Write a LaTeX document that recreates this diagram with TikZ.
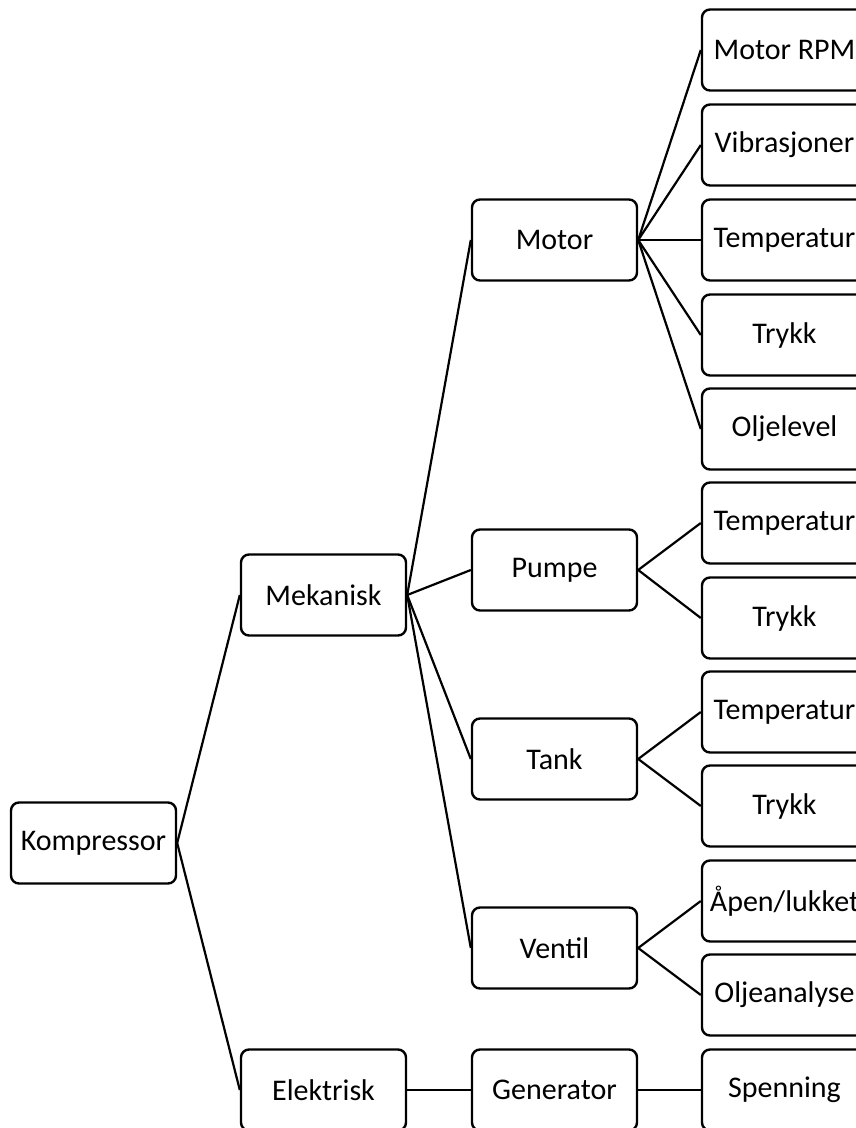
\documentclass[tikz,border=0pt]{standalone}
\usepackage{fontspec}
\setmainfont{Carlito}
\begin{document}
\begin{tikzpicture}[x=1pt,y=-1pt,
  box/.style={draw, line width=2.4pt, rounded corners=8pt,
    minimum width=165pt, minimum height=81pt, inner sep=0pt,
    font=\fontsize{30}{36}\selectfont},
  link/.style={line width=2.2pt}]
\useasboundingbox (0,0) rectangle (856,1128);
\clip (0,0) rectangle (856,1128);

% root
\node[box] (komp) at (93.5,843) {Kompressor};

% first level
\node[box] (mek) at (323.5,595) {Mekanisk};
\node[box] (elek) at (323.5,1090) {Elektrisk};

% second level
\node[box] (motor) at (554.5,240) {Motor};
\node[box] (pumpe) at (554.5,570) {Pumpe};
\node[box] (tank) at (554.5,759) {Tank};
\node[box] (ventil) at (554.5,948) {Ventil};
\node[box] (gen) at (554.5,1090) {Generator};

% measurements
\node[box] (m1) at (784.5,50) {Motor RPM};
\node[box] (m2) at (784.5,145) {Vibrasjoner};
\node[box] (m3) at (784.5,240) {Temperatur};
\node[box] (m4) at (784.5,335) {Trykk};
\node[box] (m5) at (784.5,429) {Oljelevel};
\node[box] (p1) at (784.5,523) {Temperatur};
\node[box] (p2) at (784.5,618) {Trykk};
\node[box] (t1) at (784.5,712) {Temperatur};
\node[box] (t2) at (784.5,806) {Trykk};
\node[box] (v1) at (784.5,901) {Åpen/lukket};
\node[box] (v2) at (784.5,995) {Oljeanalyse};
\node[box] (g1) at (784.5,1090) {Spenning};

% connectors
\draw[link] (komp.east) -- (mek.west);
\draw[link] (komp.east) -- (elek.west);
\foreach \c in {motor,pumpe,tank,ventil}
  \draw[link] (mek.east) -- (\c.west);
\draw[link] (elek.east) -- (gen.west);
\foreach \c in {m1,m2,m3,m4,m5}
  \draw[link] (motor.east) -- (\c.west);
\foreach \c in {p1,p2}
  \draw[link] (pumpe.east) -- (\c.west);
\foreach \c in {t1,t2}
  \draw[link] (tank.east) -- (\c.west);
\foreach \c in {v1,v2}
  \draw[link] (ventil.east) -- (\c.west);
\draw[link] (gen.east) -- (g1.west);
\end{tikzpicture}
\end{document}
